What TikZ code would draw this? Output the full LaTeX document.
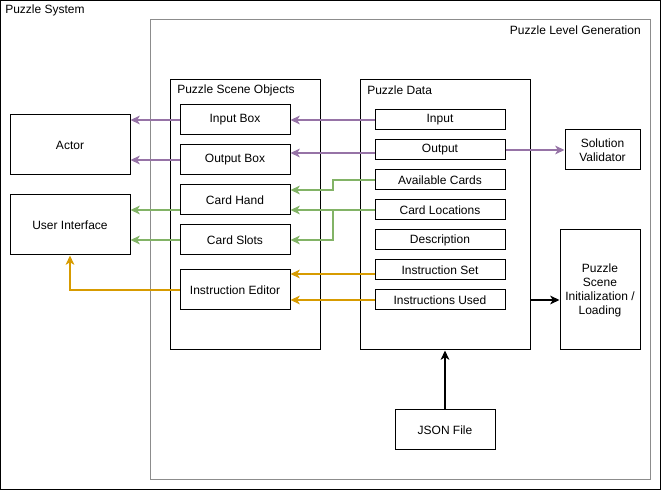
\documentclass[tikz,border=0pt]{standalone}
\usepackage{fontspec}
\setmainfont{Liberation Sans}
\usetikzlibrary{arrows.meta,calc}
\definecolor{pur}{HTML}{9673A6}
\definecolor{grn}{HTML}{82B366}
\definecolor{org}{HTML}{D79B00}
\newcommand\bx[7][]{\node[box,#1,minimum width={(#4-#2)*0.75pt},minimum height={(#5-#3)*0.75pt}] (#6) at ({(#2+#4)/2},{(#3+#5)/2}) {#7};}
\begin{document}
\begin{tikzpicture}[x=0.75pt,y=-0.75pt,font=\fontsize{9}{10.5}\selectfont,
  box/.style={draw=black,line width=0.75pt,inner sep=1pt,align=center},
  frame/.style={box},
  gframe/.style={box,draw=black!45},
  lbl/.style={inner sep=0pt},
  tip/.style={-{Stealth[length=7pt,width=6.5pt,inset=2pt]}},
  pu/.style={tip,draw=pur,line width=1.5pt},
  gr/.style={tip,draw=grn,line width=1.5pt},
  og/.style={tip,draw=org,line width=1.5pt},
  bk/.style={tip,draw=black,line width=1.5pt}]
\useasboundingbox (0,0) rectangle (661,491);
% containers
\bx{0.5}{0.5}{660}{490}{sys}{}
\node[lbl,anchor=west] (sysl) at (5,10) {Puzzle System};
\bx[gframe]{150}{20}{650}{480}{plg}{}
\node[lbl,anchor=east] (plgl) at (641,30) {Puzzle Level Generation};
\bx{170}{80}{320}{350}{pso}{}
\node[lbl,anchor=west] (psol) at (177,90) {Puzzle Scene Objects};
\bx{360}{80}{530}{350}{pd}{}
\node[lbl,anchor=west] (pdl) at (367,90) {Puzzle Data};
% scene objects
\bx{180}{105}{290}{135}{inbox}{Input Box}
\bx{180}{145}{290}{175}{outbox}{Output Box}
\bx{180}{185}{290}{215}{hand}{Card Hand}
\bx{180}{225}{290}{255}{slots}{Card Slots}
\bx{180}{270}{290}{310}{ied}{Instruction Editor}
% data
\bx{375}{110}{505}{130}{inp}{Input}
\bx{375}{140}{505}{160}{outp}{Output}
\bx{375}{170}{505}{190}{avail}{Available Cards}
\bx{375}{200}{505}{220}{loc}{Card Locations}
\bx{375}{230}{505}{250}{desc}{Description}
\bx{375}{260}{505}{280}{iset}{Instruction Set}
\bx{375}{290}{505}{310}{iused}{Instructions Used}
% outside
\bx{10}{115}{130}{175}{actor}{Actor}
\bx{10}{195}{130}{255}{ui}{User Interface}
\bx{565}{130}{640}{170}{sv}{Solution\\Validator}
\bx{560}{230}{640}{350}{init}{Puzzle\\Scene\\Initialization /\\Loading}
\bx{395}{410}{495}{450}{json}{JSON File}
% helper points
\coordinate (o1) at ($(outp.west)+(0,3)$);
\coordinate (a1) at (333,180);
\coordinate (a2) at (333,190);
\coordinate (j) at (333,210);
\coordinate (j2) at (333,240);
\coordinate (is1) at ($(iset.west)+(0,4)$);
\coordinate (pd1) at ($(pd.east)+(0,85)$);
\coordinate (h1) at ($(hand.west)+(0,10)$);
% purple
\draw[pu] (inp.west) -- (inbox.east);
\draw[pu] (o1) -- (o1 -| outbox.east);
\draw[pu] (inbox.west) -- (inbox.west -| actor.east);
\draw[pu] (outbox.west) -- (outbox.west -| actor.east);
\draw[pu] (outp.east) -- (sv.west);
% green
\draw[gr] (avail.west) -- (a1) -- (a2) -- (a2 -| hand.east);
\draw[gr] (loc.west) -- (loc.west -| hand.east);
\draw[gr] (j) -- (j2) -- (slots.east);
\draw[gr] (h1) -- (h1 -| ui.east);
\draw[gr] (slots.west) -- (slots.west -| ui.east);
% orange
\draw[og] (is1) -- (is1 -| ied.east);
\draw[og] (iused.west) -- (iused.west -| ied.east);
\draw[og] (ied.west) -| (ui.south);
% black
\draw[bk] (pd1) -- (pd1 -| init.west);
\draw[bk] (json.north) -- (pd.south);
\end{tikzpicture}
\end{document}
